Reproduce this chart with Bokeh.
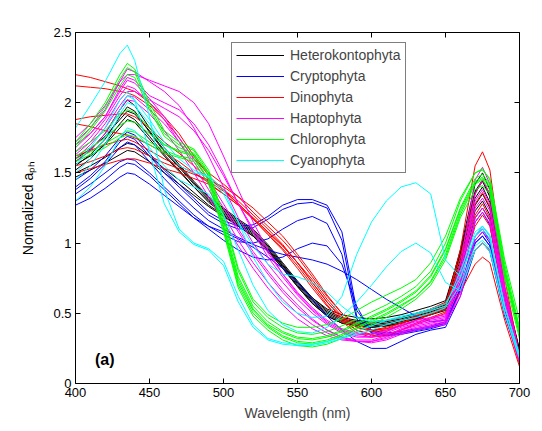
from bokeh.plotting import figure
from bokeh.models import (Range1d, LinearAxis, FixedTicker, Legend, LegendItem, Label)
from bokeh.embed import file_html
from bokeh.resources import INLINE

# ---------------- data ----------------
wavelength = [400, 410, 420, 430, 435, 440, 450, 460, 470, 480, 490, 500, 510, 520, 530,
              540, 550, 560, 570, 580, 590, 600, 610, 620, 630, 640, 650, 660, 670, 675,
              680, 690, 700]

# Heterokontophyta (black)
hetero_1 = [1.58, 1.66, 1.78, 1.95, 2.02, 1.98, 1.82, 1.68, 1.56, 1.44, 1.33, 1.25, 1.17, 1.10, 0.99, 0.86, 0.73, 0.61, 0.52, 0.47, 0.45, 0.44, 0.45, 0.47, 0.50, 0.53, 0.57, 0.95, 1.42, 1.50, 1.38, 0.68, 0.24]
hetero_2 = [1.55, 1.63, 1.74, 1.90, 1.97, 1.94, 1.79, 1.65, 1.54, 1.42, 1.31, 1.23, 1.15, 1.08, 0.97, 0.84, 0.71, 0.59, 0.50, 0.45, 0.43, 0.42, 0.43, 0.45, 0.48, 0.51, 0.55, 0.92, 1.37, 1.45, 1.33, 0.65, 0.23]
hetero_3 = [1.60, 1.67, 1.76, 1.88, 1.94, 1.92, 1.80, 1.66, 1.55, 1.43, 1.32, 1.24, 1.16, 1.09, 0.98, 0.85, 0.72, 0.60, 0.51, 0.46, 0.44, 0.43, 0.44, 0.46, 0.49, 0.52, 0.56, 0.88, 1.32, 1.40, 1.29, 0.63, 0.22]
hetero_4 = [1.52, 1.60, 1.71, 1.85, 1.91, 1.88, 1.76, 1.63, 1.52, 1.40, 1.29, 1.21, 1.13, 1.06, 0.95, 0.82, 0.69, 0.57, 0.48, 0.43, 0.41, 0.40, 0.41, 0.43, 0.46, 0.49, 0.53, 0.85, 1.27, 1.35, 1.25, 0.60, 0.21]
hetero_5 = [1.56, 1.62, 1.70, 1.82, 1.88, 1.86, 1.74, 1.62, 1.51, 1.40, 1.30, 1.22, 1.14, 1.07, 0.96, 0.83, 0.70, 0.58, 0.49, 0.44, 0.42, 0.41, 0.42, 0.44, 0.47, 0.50, 0.54, 0.83, 1.23, 1.30, 1.20, 0.58, 0.20]
hetero_6 = [1.50, 1.55, 1.61, 1.68, 1.71, 1.70, 1.62, 1.53, 1.45, 1.36, 1.27, 1.20, 1.12, 1.05, 0.94, 0.82, 0.69, 0.57, 0.48, 0.43, 0.41, 0.40, 0.41, 0.43, 0.46, 0.49, 0.52, 0.80, 1.18, 1.25, 1.16, 0.56, 0.19]
hetero_7 = [1.47, 1.52, 1.57, 1.63, 1.66, 1.65, 1.58, 1.50, 1.42, 1.34, 1.26, 1.19, 1.12, 1.05, 0.95, 0.84, 0.72, 0.61, 0.53, 0.49, 0.47, 0.46, 0.47, 0.49, 0.52, 0.55, 0.59, 0.93, 1.36, 1.44, 1.33, 0.66, 0.24]

# Cryptophyta (blue)
crypto_1 = [1.45, 1.52, 1.62, 1.75, 1.79, 1.77, 1.64, 1.52, 1.42, 1.32, 1.22, 1.16, 1.12, 1.13, 1.19, 1.27, 1.31, 1.31, 1.27, 1.08, 0.52, 0.38, 0.36, 0.37, 0.39, 0.41, 0.44, 0.72, 1.15, 1.22, 1.13, 0.56, 0.20]
crypto_2 = [1.40, 1.48, 1.58, 1.72, 1.76, 1.74, 1.62, 1.50, 1.40, 1.30, 1.20, 1.14, 1.10, 1.11, 1.17, 1.24, 1.28, 1.29, 1.25, 1.02, 0.48, 0.37, 0.35, 0.36, 0.38, 0.40, 0.43, 0.68, 1.05, 1.10, 1.02, 0.52, 0.19]
crypto_3 = [1.35, 1.42, 1.50, 1.58, 1.60, 1.59, 1.50, 1.40, 1.30, 1.20, 1.12, 1.06, 1.01, 1.00, 1.03, 1.10, 1.16, 1.19, 1.14, 0.92, 0.46, 0.36, 0.34, 0.35, 0.37, 0.39, 0.42, 0.66, 1.00, 1.05, 0.98, 0.50, 0.18]
crypto_4 = [1.30, 1.37, 1.45, 1.54, 1.57, 1.56, 1.48, 1.38, 1.28, 1.18, 1.10, 1.02, 0.95, 0.90, 0.88, 0.90, 0.96, 1.00, 0.98, 0.85, 0.55, 0.36, 0.34, 0.36, 0.38, 0.40, 0.43, 0.66, 1.02, 1.08, 1.00, 0.50, 0.18]
crypto_5 = [1.38, 1.46, 1.56, 1.68, 1.72, 1.70, 1.58, 1.46, 1.35, 1.25, 1.16, 1.10, 1.04, 0.99, 0.95, 0.92, 0.90, 0.88, 0.85, 0.80, 0.74, 0.67, 0.60, 0.54, 0.48, 0.44, 0.45, 0.66, 1.00, 1.05, 0.98, 0.50, 0.18]
crypto_6 = [1.27, 1.32, 1.39, 1.47, 1.50, 1.49, 1.42, 1.34, 1.26, 1.18, 1.12, 1.08, 1.03, 0.97, 0.90, 0.82, 0.72, 0.60, 0.48, 0.38, 0.30, 0.25, 0.25, 0.30, 0.35, 0.38, 0.40, 0.62, 0.95, 1.00, 0.94, 0.48, 0.17]

# Dinophyta (red)
dino_1 = [2.20, 2.18, 2.15, 2.12, 2.10, 2.08, 2.00, 1.90, 1.78, 1.62, 1.48, 1.38, 1.28, 1.18, 1.08, 0.98, 0.86, 0.74, 0.60, 0.48, 0.40, 0.38, 0.40, 0.43, 0.47, 0.50, 0.55, 0.85, 1.20, 1.28, 1.18, 0.60, 0.18]
dino_2 = [2.12, 2.11, 2.10, 2.08, 2.07, 2.05, 1.98, 1.88, 1.75, 1.60, 1.50, 1.42, 1.33, 1.22, 1.12, 1.02, 0.90, 0.76, 0.62, 0.50, 0.42, 0.38, 0.39, 0.41, 0.45, 0.50, 0.55, 0.95, 1.55, 1.65, 1.52, 0.75, 0.20]
dino_3 = [1.88, 1.90, 1.91, 1.92, 1.92, 1.90, 1.82, 1.72, 1.64, 1.55, 1.46, 1.38, 1.30, 1.20, 1.10, 0.99, 0.86, 0.72, 0.58, 0.47, 0.40, 0.37, 0.38, 0.41, 0.45, 0.49, 0.53, 0.85, 1.28, 1.36, 1.26, 0.62, 0.17]
dino_4 = [1.85, 1.83, 1.80, 1.78, 1.77, 1.75, 1.70, 1.64, 1.58, 1.50, 1.43, 1.35, 1.27, 1.17, 1.06, 0.95, 0.82, 0.68, 0.55, 0.45, 0.38, 0.34, 0.35, 0.38, 0.42, 0.46, 0.50, 0.75, 1.12, 1.20, 1.12, 0.55, 0.15]
dino_5 = [1.62, 1.66, 1.70, 1.73, 1.74, 1.72, 1.66, 1.60, 1.55, 1.50, 1.44, 1.37, 1.28, 1.18, 1.08, 0.98, 0.86, 0.72, 0.58, 0.46, 0.38, 0.35, 0.37, 0.42, 0.48, 0.53, 0.58, 0.70, 0.95, 1.00, 0.95, 0.50, 0.14]
dino_6 = [1.50, 1.53, 1.56, 1.59, 1.60, 1.60, 1.57, 1.53, 1.50, 1.46, 1.42, 1.35, 1.27, 1.17, 1.07, 0.96, 0.84, 0.70, 0.56, 0.44, 0.36, 0.33, 0.34, 0.38, 0.43, 0.47, 0.51, 0.65, 0.85, 0.90, 0.86, 0.45, 0.12]
dino_7 = [1.55, 1.58, 1.62, 1.67, 1.68, 1.67, 1.62, 1.57, 1.53, 1.49, 1.45, 1.40, 1.33, 1.25, 1.15, 1.05, 0.92, 0.78, 0.63, 0.50, 0.42, 0.38, 0.39, 0.43, 0.48, 0.53, 0.57, 0.90, 1.35, 1.45, 1.35, 0.68, 0.20]

# Haptophyta (magenta)
hapto_1 = [1.72, 1.82, 1.95, 2.15, 2.24, 2.22, 2.15, 2.08, 1.98, 1.82, 1.62, 1.40, 1.18, 1.00, 0.85, 0.72, 0.60, 0.50, 0.42, 0.36, 0.33, 0.33, 0.36, 0.40, 0.43, 0.45, 0.47, 0.85, 1.45, 1.54, 1.42, 0.70, 0.20]
hapto_2 = [1.68, 1.78, 1.90, 2.10, 2.18, 2.16, 2.05, 2.00, 1.95, 1.85, 1.70, 1.50, 1.28, 1.08, 0.90, 0.76, 0.63, 0.52, 0.43, 0.37, 0.34, 0.33, 0.35, 0.38, 0.41, 0.43, 0.45, 0.78, 1.30, 1.38, 1.28, 0.64, 0.18]
hapto_3 = [1.65, 1.75, 1.88, 2.05, 2.12, 2.10, 2.00, 1.88, 1.72, 1.55, 1.38, 1.20, 1.02, 0.86, 0.72, 0.60, 0.50, 0.42, 0.36, 0.32, 0.30, 0.30, 0.33, 0.37, 0.40, 0.42, 0.44, 0.70, 1.15, 1.22, 1.14, 0.58, 0.16]
hapto_4 = [1.70, 1.78, 1.90, 2.08, 2.16, 2.14, 2.03, 1.90, 1.75, 1.60, 1.45, 1.28, 1.10, 0.94, 0.80, 0.67, 0.56, 0.46, 0.38, 0.33, 0.31, 0.31, 0.34, 0.39, 0.42, 0.44, 0.46, 0.75, 1.25, 1.32, 1.23, 0.60, 0.17]
hapto_5 = [1.60, 1.70, 1.82, 1.98, 2.05, 2.04, 1.95, 1.85, 1.72, 1.58, 1.42, 1.25, 1.08, 0.92, 0.78, 0.65, 0.54, 0.45, 0.38, 0.33, 0.30, 0.29, 0.31, 0.35, 0.38, 0.40, 0.42, 0.65, 1.05, 1.12, 1.05, 0.52, 0.15]
hapto_6 = [1.75, 1.85, 1.98, 2.15, 2.20, 2.20, 2.16, 2.12, 2.08, 2.00, 1.85, 1.62, 1.38, 1.15, 0.95, 0.78, 0.64, 0.53, 0.44, 0.38, 0.35, 0.35, 0.38, 0.42, 0.45, 0.47, 0.49, 0.80, 1.35, 1.45, 1.35, 0.66, 0.19]
hapto_7 = [1.63, 1.72, 1.85, 2.02, 2.08, 2.08, 2.02, 1.96, 1.90, 1.80, 1.66, 1.48, 1.28, 1.10, 0.93, 0.78, 0.65, 0.54, 0.45, 0.39, 0.36, 0.35, 0.37, 0.41, 0.44, 0.46, 0.48, 0.72, 1.18, 1.25, 1.17, 0.58, 0.17]
hapto_8 = [1.58, 1.66, 1.78, 1.95, 2.02, 2.01, 1.92, 1.80, 1.66, 1.50, 1.33, 1.15, 0.98, 0.82, 0.68, 0.56, 0.46, 0.39, 0.34, 0.31, 0.30, 0.30, 0.32, 0.36, 0.39, 0.41, 0.43, 0.62, 1.02, 1.08, 1.02, 0.50, 0.15]

# Chlorophyta (green)
chloro_1 = [1.72, 1.85, 2.00, 2.20, 2.28, 2.24, 2.00, 1.80, 1.72, 1.67, 1.52, 1.18, 0.80, 0.58, 0.47, 0.40, 0.36, 0.35, 0.37, 0.41, 0.46, 0.51, 0.56, 0.62, 0.69, 0.80, 1.00, 1.30, 1.50, 1.53, 1.45, 0.85, 0.40]
chloro_2 = [1.70, 1.82, 1.97, 2.17, 2.25, 2.22, 1.97, 1.78, 1.70, 1.66, 1.50, 1.15, 0.76, 0.55, 0.44, 0.37, 0.33, 0.32, 0.34, 0.38, 0.43, 0.48, 0.53, 0.59, 0.66, 0.77, 0.96, 1.25, 1.46, 1.49, 1.42, 0.82, 0.38]
chloro_3 = [1.68, 1.80, 1.94, 2.12, 2.20, 2.18, 1.95, 1.76, 1.68, 1.64, 1.48, 1.12, 0.72, 0.52, 0.41, 0.34, 0.30, 0.29, 0.31, 0.35, 0.40, 0.45, 0.50, 0.56, 0.62, 0.72, 0.90, 1.20, 1.42, 1.45, 1.38, 0.78, 0.35]
chloro_4 = [1.65, 1.72, 1.80, 1.92, 1.95, 1.93, 1.82, 1.70, 1.65, 1.62, 1.45, 1.10, 0.70, 0.50, 0.40, 0.33, 0.29, 0.28, 0.30, 0.34, 0.39, 0.44, 0.49, 0.55, 0.62, 0.73, 0.92, 1.22, 1.43, 1.46, 1.40, 0.80, 0.35]
chloro_5 = [1.62, 1.68, 1.75, 1.84, 1.87, 1.86, 1.78, 1.70, 1.66, 1.63, 1.50, 1.20, 0.82, 0.60, 0.49, 0.43, 0.40, 0.40, 0.42, 0.46, 0.52, 0.58, 0.63, 0.68, 0.74, 0.86, 1.05, 1.32, 1.50, 1.52, 1.46, 0.88, 0.45]
chloro_6 = [1.60, 1.65, 1.71, 1.77, 1.80, 1.79, 1.72, 1.66, 1.62, 1.60, 1.45, 1.12, 0.74, 0.53, 0.42, 0.36, 0.32, 0.31, 0.33, 0.37, 0.42, 0.47, 0.52, 0.58, 0.65, 0.76, 0.95, 1.24, 1.44, 1.47, 1.41, 0.80, 0.37]
chloro_7 = [1.58, 1.63, 1.68, 1.75, 1.77, 1.76, 1.70, 1.64, 1.61, 1.58, 1.42, 1.08, 0.68, 0.48, 0.38, 0.31, 0.27, 0.26, 0.28, 0.32, 0.37, 0.42, 0.47, 0.53, 0.60, 0.70, 0.88, 1.18, 1.38, 1.41, 1.35, 0.75, 0.32]

# Cyanophyta (cyan)
cyano_1 = [1.82, 1.98, 2.15, 2.35, 2.41, 2.30, 1.90, 1.38, 1.10, 1.00, 0.96, 0.87, 0.62, 0.42, 0.32, 0.29, 0.28, 0.28, 0.30, 0.33, 0.37, 0.41, 0.45, 0.48, 0.50, 0.53, 0.57, 0.75, 1.05, 1.10, 1.03, 0.55, 0.20]
cyano_2 = [1.55, 1.68, 1.82, 2.02, 2.08, 2.02, 1.65, 1.28, 1.08, 0.99, 0.95, 0.84, 0.58, 0.40, 0.31, 0.28, 0.27, 0.27, 0.29, 0.32, 0.35, 0.38, 0.42, 0.45, 0.47, 0.50, 0.54, 0.70, 0.98, 1.02, 0.96, 0.50, 0.18]
cyano_3 = [1.45, 1.55, 1.70, 1.92, 2.00, 1.98, 1.85, 1.68, 1.55, 1.50, 1.48, 1.38, 1.15, 0.90, 0.72, 0.58, 0.50, 0.47, 0.48, 0.62, 0.92, 1.15, 1.30, 1.40, 1.43, 1.35, 0.88, 0.76, 1.05, 1.12, 1.06, 0.55, 0.20]
cyano_4 = [1.30, 1.40, 1.55, 1.75, 1.82, 1.80, 1.68, 1.55, 1.45, 1.40, 1.35, 1.20, 0.95, 0.70, 0.52, 0.42, 0.37, 0.36, 0.40, 0.48, 0.58, 0.70, 0.83, 0.94, 1.00, 0.93, 0.72, 0.66, 0.95, 1.00, 0.94, 0.50, 0.18]
cyano_5 = [1.50, 1.60, 1.75, 1.95, 2.05, 2.02, 1.88, 1.72, 1.60, 1.52, 1.47, 1.35, 1.15, 0.98, 0.85, 0.78, 0.76, 0.72, 0.65, 0.55, 0.47, 0.44, 0.45, 0.47, 0.49, 0.52, 0.55, 0.80, 1.08, 1.12, 1.05, 0.55, 0.20]

group_names = ["Heterokontophyta", "Cryptophyta", "Dinophyta", "Haptophyta", "Chlorophyta", "Cyanophyta"]
group_colors = ["#000000", "#0000FF", "#FF0000", "#FF00FF", "#00FF00", "#00FFFF"]
group_curves = [
    [hetero_1, hetero_2, hetero_3, hetero_4, hetero_5, hetero_6, hetero_7],
    [crypto_1, crypto_2, crypto_3, crypto_4, crypto_5, crypto_6],
    [dino_1, dino_2, dino_3, dino_4, dino_5, dino_6, dino_7],
    [hapto_1, hapto_2, hapto_3, hapto_4, hapto_5, hapto_6, hapto_7, hapto_8],
    [chloro_1, chloro_2, chloro_3, chloro_4, chloro_5, chloro_6, chloro_7],
    [cyano_1, cyano_2, cyano_3, cyano_4, cyano_5],
]
x_ticks = [400, 450, 500, 550, 600, 650, 700]
y_ticks = [0, 0.5, 1, 1.5, 2, 2.5]
y_tick_labels = ["0", "0.5", "1", "1.5", "2", "2.5"]

FONT = "Liberation Sans"

p = figure(width=539, height=429, output_backend="svg", toolbar_location=None,
           x_range=Range1d(400, 700), y_range=Range1d(0, 2.5),
           min_border_left=75, min_border_right=20, min_border_top=32, min_border_bottom=46)
p.grid.visible = False
p.outline_line_color = None
p.background_fill_color = "white"
p.border_fill_color = "white"

items = []
for name, color, curves in zip(group_names, group_colors, group_curves):
    first = None
    for c in curves:
        r = p.line(wavelength, c, line_color=color, line_width=1)
        if first is None:
            first = r
    items.append(LegendItem(label=name, renderers=[first]))


def style_axis(ax):
    ax.axis_line_color = "black"
    ax.axis_line_width = 1
    ax.major_tick_in = 5
    ax.major_tick_out = 0
    ax.minor_tick_line_color = None
    ax.major_tick_line_color = "black"
    ax.major_label_text_font = FONT
    ax.major_label_text_font_size = "13px"
    ax.major_label_text_color = "black"


p.xaxis.ticker = FixedTicker(ticks=x_ticks)
p.yaxis.ticker = FixedTicker(ticks=y_ticks)
p.yaxis.major_label_overrides = {t: s for t, s in zip(y_ticks, y_tick_labels)}
style_axis(p.xaxis[0])
style_axis(p.yaxis[0])
p.xaxis.major_label_standoff = 4
p.yaxis.major_label_standoff = 4
p.xaxis.axis_label = "Wavelength (nm)"
p.xaxis.axis_label_text_font = FONT
p.xaxis.axis_label_text_font_size = "14px"
p.xaxis.axis_label_text_font_style = "normal"
p.xaxis.axis_label_standoff = 5

# y axis label: "Normalized a" with subscript "ph"
p.yaxis.axis_label = "Normalized a\u209a\u2095"
p.yaxis.axis_label_text_font = FONT
p.yaxis.axis_label_text_font_size = "14px"
p.yaxis.axis_label_text_font_style = "normal"
p.yaxis.axis_label_text_color = "black"
p.yaxis.axis_label_standoff = 14

top_axis = LinearAxis(ticker=FixedTicker(ticks=x_ticks),
                      major_label_overrides={t: "" for t in x_ticks})
right_axis = LinearAxis(ticker=FixedTicker(ticks=y_ticks),
                        major_label_overrides={t: "" for t in y_ticks})
style_axis(top_axis)
style_axis(right_axis)
top_axis.major_label_standoff = 0
right_axis.major_label_standoff = 0
p.add_layout(top_axis, "above")
p.add_layout(right_axis, "right")

p.add_layout(Label(x=413.2, y=0.173, text="(a)", text_font=FONT, text_font_size="16px",
                   text_font_style="bold", text_align="left", text_baseline="middle",
                   text_color="black"))

legend = Legend(items=items, location=(156, 210.5))
legend.label_text_font = FONT
legend.label_text_font_size = "14px"
legend.label_height = 16
legend.glyph_height = 16
legend.glyph_width = 48
legend.spacing = 5
legend.padding = 4
legend.margin = 0
legend.label_standoff = 6
legend.border_line_color = "black"
legend.border_line_width = 1
legend.background_fill_color = "white"
legend.background_fill_alpha = 1
p.add_layout(legend)

open("out.html", "w").write(file_html(p, INLINE))
